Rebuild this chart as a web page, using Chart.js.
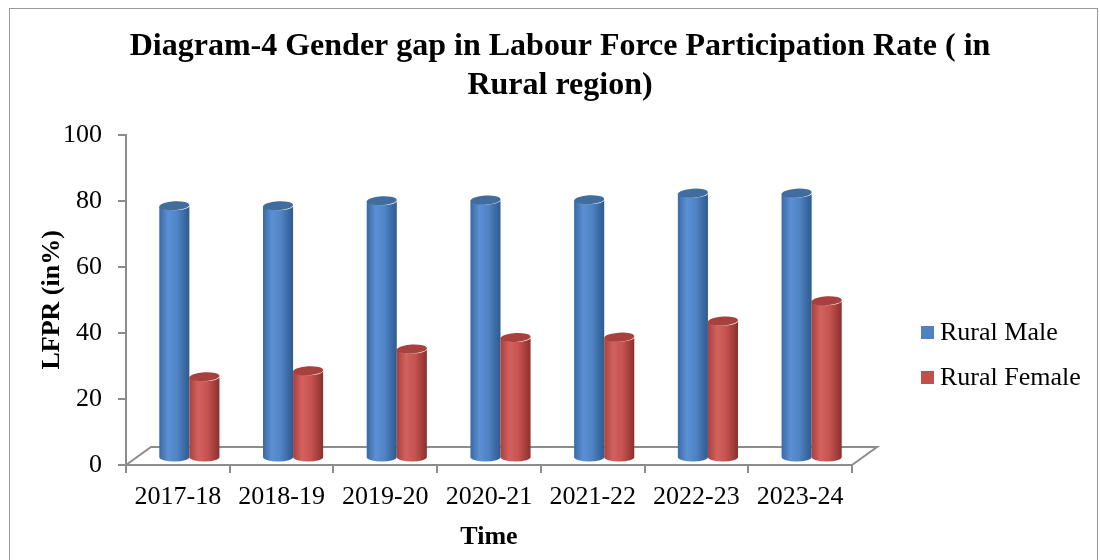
<!DOCTYPE html>
<html>
<head>
<meta charset="utf-8">
<script src="https://cdn.jsdelivr.net/npm/chart.js@4/dist/chart.umd.min.js"></script>
<style>
  html, body { margin: 0; padding: 0; background: #fff; }
  #wrap { width: 1100px; height: 560px; position: relative; }
</style>
</head>
<body>
<div id="wrap"><canvas id="chart" width="1100" height="560"></canvas></div>
<script>
(function () {
  "use strict";

  const titleLines = ["Diagram-4 Gender gap in Labour Force Participation Rate ( in", "Rural region)"];
  const years = ["2017-18", "2018-19", "2019-20", "2020-21", "2021-22", "2022-23", "2023-24"];
  const ruralMale = [76.4, 76.4, 77.9, 78.1, 78.2, 80.2, 80.2];
  const ruralFemale = [24.6, 26.4, 33.0, 36.5, 36.6, 41.5, 47.6];
  const seriesNames = ["Rural Male", "Rural Female"];
  const seriesColors = ["#4F81BD", "#C0504D"];

  const serif = "'Liberation Serif', 'Times New Roman', serif";
  const axisGray = "#8c8c8c";

  // shading for the cylinders: left edge, highlight, mid, right edge, top cap
  const shades = [
    ["#3a6aa4", "#5b90d4", "#4f83c4", "#2e5a8e", "#406c9e"],
    ["#a8413e", "#d3625e", "#c5534f", "#8c302e", "#a8403d"],
  ];

  const depthX = 25;
  const depthY = -18;

  function drawCylinder(ctx, bar, shade) {
    const props = bar.getProps(["x", "y", "base", "width"], true);
    const rx = props.width / 2;
    const ry = 4.5;
    const cx = props.x + depthX / 2 - 1;
    const top = props.y + depthY / 2 + 2;
    const bottom = props.base + depthY / 2 + 2;

    const grad = ctx.createLinearGradient(cx - rx, 0, cx + rx, 0);
    grad.addColorStop(0, shade[0]);
    grad.addColorStop(0.3, shade[1]);
    grad.addColorStop(0.6, shade[2]);
    grad.addColorStop(1, shade[3]);

    ctx.beginPath();
    ctx.moveTo(cx - rx, top);
    ctx.lineTo(cx - rx, bottom);
    ctx.ellipse(cx, bottom, rx, ry, 0, Math.PI, 0, true);
    ctx.lineTo(cx + rx, top);
    ctx.ellipse(cx, top, rx, ry, 0, 0, Math.PI, false);
    ctx.closePath();
    ctx.fillStyle = grad;
    ctx.fill();

    // top cap, tilted a little like the original 3D view
    ctx.beginPath();
    ctx.ellipse(cx, top, rx, ry, -0.06, 0, Math.PI * 2);
    ctx.fillStyle = shade[4];
    ctx.fill();
  }

  const frame3d = {
    id: "frame3d",
    beforeDraw(chart) {
      const ctx = chart.ctx;
      ctx.save();
      ctx.strokeStyle = "#9a9a9a";
      ctx.lineWidth = 1;
      ctx.strokeRect(9.5, 8.5, 1088, 600);
      ctx.restore();
    },
    beforeDatasetsDraw(chart) {
      const ctx = chart.ctx;
      const area = chart.chartArea;
      const y0 = chart.scales.y.getPixelForValue(0);

      ctx.save();
      ctx.strokeStyle = axisGray;
      ctx.lineWidth = 2;
      ctx.beginPath();
      ctx.moveTo(area.left, y0);
      ctx.lineTo(area.left + depthX, y0 + depthY);
      ctx.lineTo(area.right + depthX, y0 + depthY);
      ctx.lineTo(area.right, y0);
      ctx.stroke();

      chart.data.datasets.forEach(function (ds, i) {
        const meta = chart.getDatasetMeta(i);
        if (meta.hidden) return;
        meta.data.forEach(function (bar) {
          drawCylinder(ctx, bar, shades[i]);
        });
      });
      ctx.restore();
      return false;
    },
    afterDraw(chart) {
      // legend on the right
      const ctx = chart.ctx;
      ctx.save();
      ctx.font = "26px " + serif;
      ctx.textBaseline = "middle";
      chart.data.datasets.forEach(function (ds, i) {
        const y = 332 + i * 45;
        ctx.fillStyle = ds.backgroundColor;
        ctx.fillRect(921, y - 6, 13, 13);
        ctx.fillStyle = "#000";
        ctx.fillText(ds.label, 940, y + 1);
      });
      ctx.restore();
    },
  };

  new Chart(document.getElementById("chart"), {
    type: "bar",
    data: {
      labels: years,
      datasets: [
        { label: seriesNames[0], data: ruralMale, backgroundColor: seriesColors[0] },
        { label: seriesNames[1], data: ruralFemale, backgroundColor: seriesColors[1] },
      ],
    },
    options: {
      responsive: false,
      animation: false,
      layout: { padding: { left: 20, right: 0, top: 0, bottom: 0 } },
      datasets: {
        bar: { categoryPercentage: 0.58, barPercentage: 1 },
      },
      plugins: {
        legend: { display: false },
        tooltip: { enabled: false },
        title: {
          display: true,
          text: titleLines,
          color: "#000",
          font: { family: serif, size: 32, weight: "bold", lineHeight: 1.2 },
          padding: { top: 28, bottom: 30 },
        },
      },
      scales: {
        x: {
          afterFit: function (scale) { scale.height = 95; },
          grid: {
            display: true,
            drawOnChartArea: false,
            drawTicks: true,
            tickLength: 8,
            color: axisGray,
            lineWidth: 2,
          },
          border: { display: true, color: axisGray, width: 2 },
          ticks: {
            color: "#000",
            padding: 9,
            font: { family: serif, size: 26 },
          },
          title: {
            display: true,
            text: "Time",
            color: "#000",
            font: { family: serif, size: 26, weight: "bold", lineHeight: 1.2 },
            padding: { top: 0, bottom: 7 },
          },
        },
        y: {
          min: 0,
          max: 100,
          afterFit: function (scale) { scale.width = 106; },
          grid: {
            display: true,
            drawOnChartArea: false,
            drawTicks: true,
            tickLength: 8,
            color: axisGray,
            lineWidth: 2,
          },
          border: { display: true, color: axisGray, width: 2 },
          ticks: {
            stepSize: 20,
            color: "#000",
            padding: 16,
            font: { family: serif, size: 26 },
          },
          title: {
            display: true,
            text: "LFPR (in%)",
            color: "#000",
            font: { family: serif, size: 26, weight: "bold", lineHeight: 1.2 },
            padding: { top: 17, bottom: 0 },
          },
        },
        // empty box on the right that keeps the plot clear of the legend
        legendSpace: {
          type: "linear",
          position: "right",
          display: true,
          afterFit: function (scale) { scale.width = 248; },
          grid: { display: false, drawTicks: false },
          border: { display: false },
          ticks: { display: false },
        },
      },
    },
    plugins: [frame3d],
  });
})();
</script>
</body>
</html>
